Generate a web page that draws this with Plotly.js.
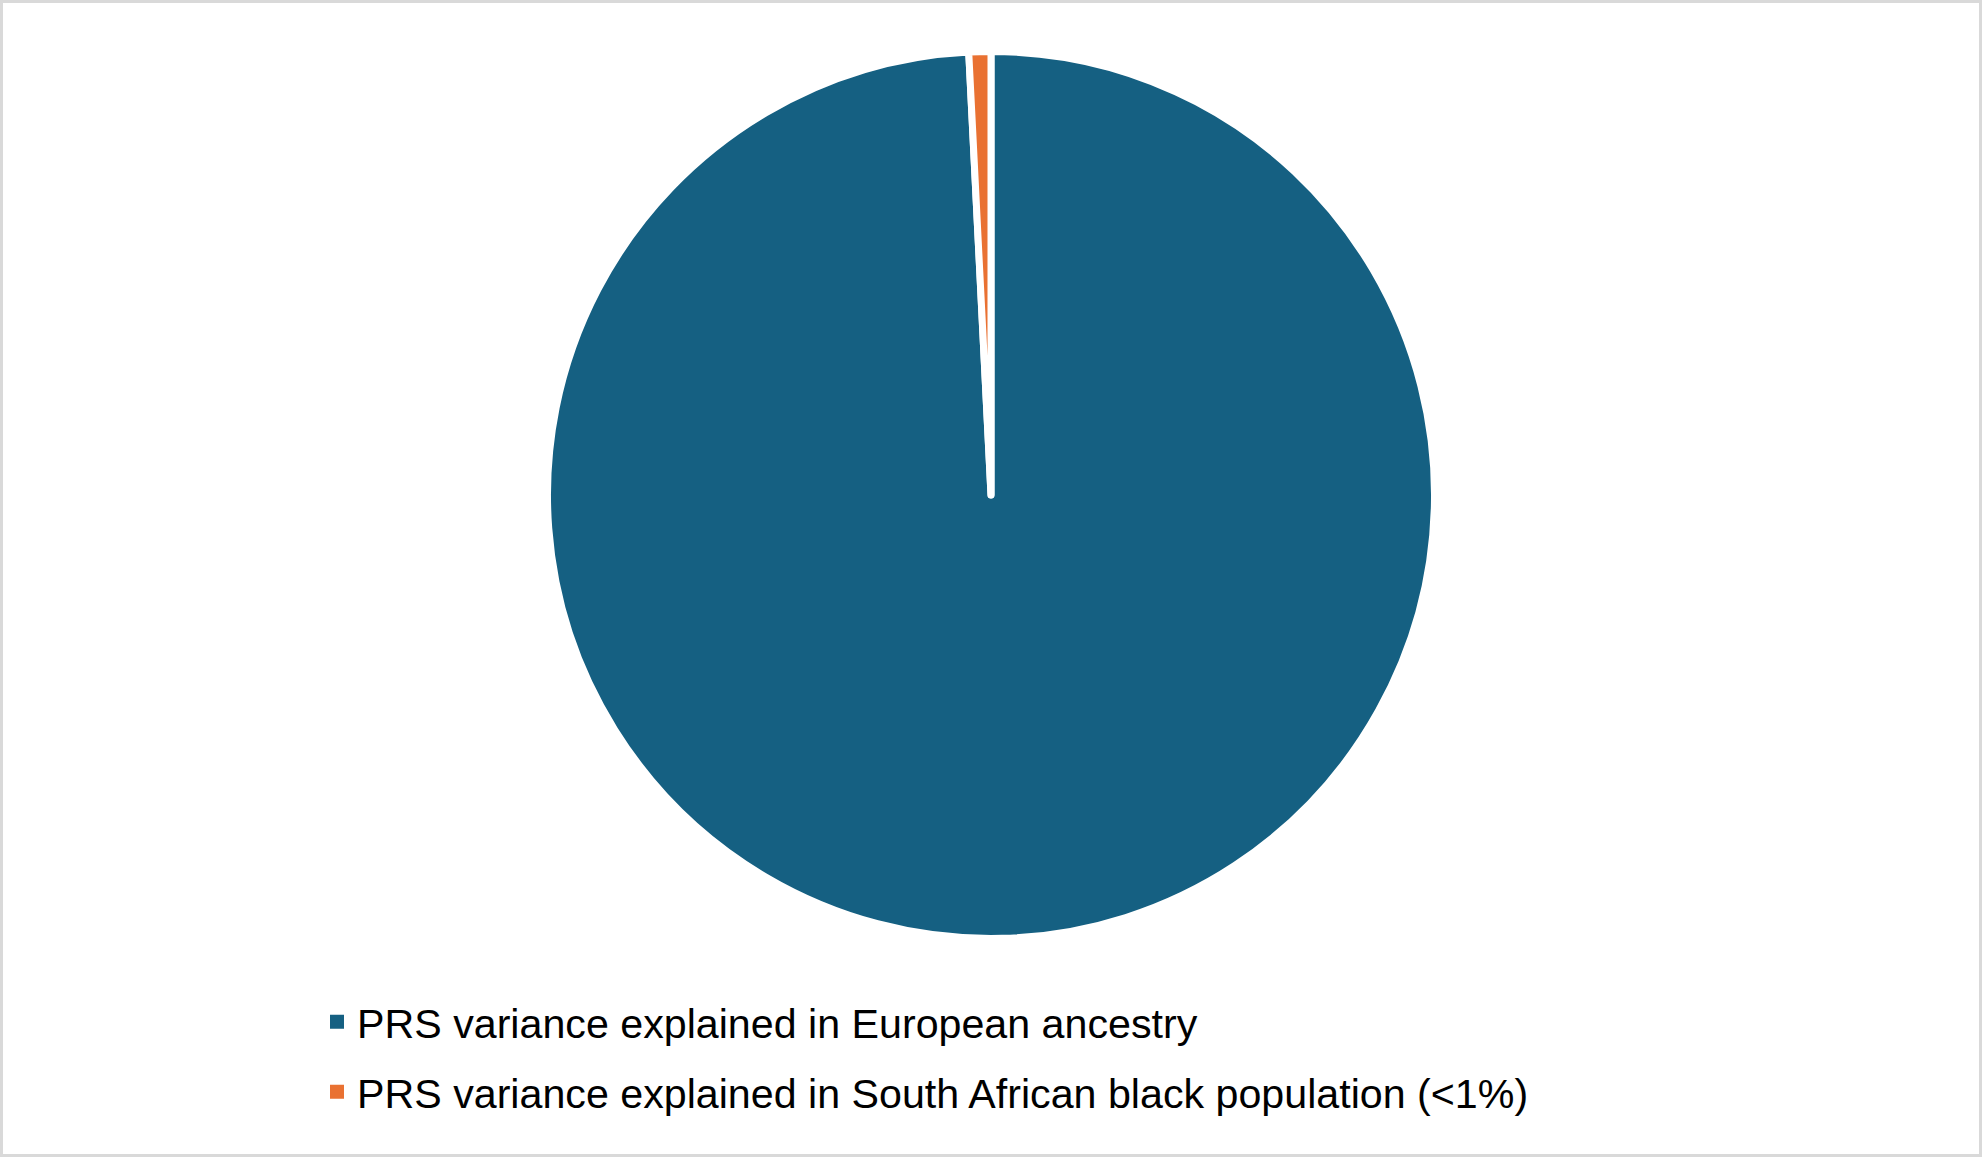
<!DOCTYPE html>
<html>
<head>
<meta charset="utf-8">
<script src="https://cdn.plot.ly/plotly-3.0.1.min.js"></script>
<style>
html, body { margin: 0; padding: 0; background: #ffffff; }
#frame { width: 1982px; height: 1157px; box-sizing: border-box; border: 3px solid #d9d9d9; background: #ffffff; }
#chart { width: 1976px; height: 1151px; }
</style>
</head>
<body>
<div id="frame"><div id="chart"></div></div>
<script>
const categories = [
  "PRS variance explained in European ancestry",
  "PRS variance explained in South African black population (<1%)"
];
const values = [99.2, 0.8];
const colors = ["#156082", "#E97132"];

const W = 1976, H = 1151;

const traces = [{
  type: "pie",
  labels: categories,
  values: values,
  sort: false,
  direction: "clockwise",
  rotation: 0,
  textinfo: "none",
  hoverinfo: "label+percent",
  showlegend: false,
  marker: { colors: colors, line: { color: "#ffffff", width: 7 } },
  domain: { x: [0, 1], y: [0.18723, 0.9579] }
}];

categories.forEach((c, i) => {
  traces.push({
    type: "scatter",
    mode: "markers",
    x: [null], y: [null],
    name: c,
    legend: i === 0 ? "legend" : "legend2",
    marker: { symbol: "square", size: 14, color: colors[i], line: { width: 0 } },
    showlegend: true,
    hoverinfo: "skip"
  });
});

const legendFont = { family: "Liberation Sans, Arial, sans-serif", size: 41.2, color: "#000000" };

const layout = {
  width: W, height: H,
  margin: { l: 0, r: 0, t: 0, b: 0 },
  paper_bgcolor: "#ffffff",
  plot_bgcolor: "#ffffff",
  xaxis: { visible: false },
  yaxis: { visible: false },
  legend: { x: 314 / W, xanchor: "left", y: 1 - 1019 / H, yanchor: "middle", font: legendFont, bgcolor: "rgba(0,0,0,0)", borderwidth: 0, itemsizing: "trace" },
  legend2: { x: 314 / W, xanchor: "left", y: 1 - 1089 / H, yanchor: "middle", font: legendFont, bgcolor: "rgba(0,0,0,0)", borderwidth: 0, itemsizing: "trace" }
};

Plotly.newPlot("chart", traces, layout, { displayModeBar: false, staticPlot: true });
</script>
</body>
</html>
